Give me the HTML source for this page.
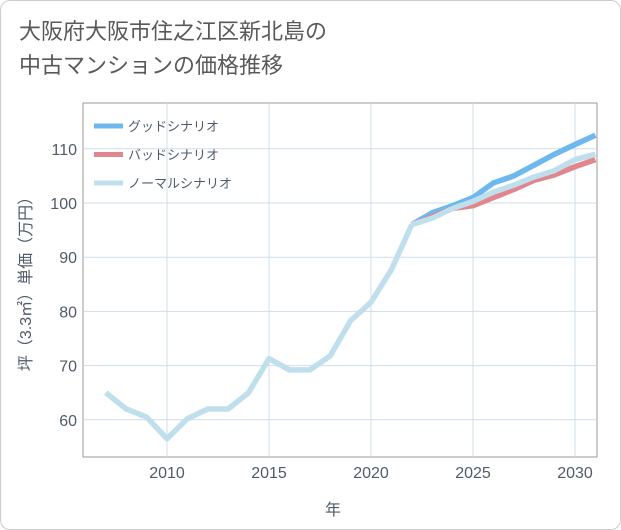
<!DOCTYPE html>
<html><head><meta charset="utf-8"><style>
body{margin:0;background:#fff;font-family:"Liberation Sans","Noto Sans CJK JP",sans-serif}
#card{position:relative;width:619px;height:528px;border:1px solid #ccc;border-radius:10px;background:#fff;overflow:hidden}
#title{position:absolute;left:18px;top:14px;font-size:22px;line-height:34px;color:#595959}
</style></head><body>
<div id="card">
<div id="title">大阪府大阪市住之江区新北島の<br>中古マンションの価格推移</div>
<svg id="svg" width="621" height="530" style="position:absolute;left:-1px;top:-1px"></svg>
</div>
<script>
const years=[2007,2008,2009,2010,2011,2012,2013,2014,2015,2016,2017,2018,2019,2020,2021,2022];
const hist=[65,62,60.5,56.5,60.2,62,62,65,71.3,69.2,69.2,71.8,78.3,81.7,87.7,96];
const futYears=[2022,2023,2024,2025,2026,2027,2028,2029,2030,2031];
const good=[96,98.2,99.5,101,103.7,105,107,109,110.8,112.5];
const bad=[96,97.5,99,99.5,101,102.5,104.2,105.2,106.7,108];
const normal=[96,97.2,99,100.3,102,103.3,104.8,106,108,109];
const xTicks=[2010,2015,2020,2025,2030];
const yTicks=[60,70,80,90,100,110];
const L=83,R=597,T=103,B=457;
const x=v=>167+(v-2010)*20.4;
const y=v=>203-(v-100)*5.42;
const s=document.getElementById('svg'),NS='http://www.w3.org/2000/svg';
const tc='#4f5b69';
function mk(t,a,p){const e=document.createElementNS(NS,t);for(const k in a)e.setAttribute(k,a[k]);(p||s).appendChild(e);return e;}
let e;
e=mk('rect',{x:L,y:T,width:R-L,height:B-T,fill:'none',stroke:'#999'});


xTicks.forEach(v=>{
e=mk('line',{x1:x(v),x2:x(v),y1:T,y2:B,stroke:'#cfdde9'});


e=mk('text',{x:x(v),y:478,'text-anchor':'middle','font-size':16,fill:tc});e.textContent=v;


});
yTicks.forEach(v=>{
e=mk('line',{x1:L,x2:R,y1:y(v),y2:y(v),stroke:'#cfdde9'});


e=mk('text',{x:77,y:y(v)+6,'text-anchor':'end','font-size':16,fill:tc});e.textContent=v;


});
e=mk('text',{x:333,y:515,'text-anchor':'middle','font-size':16,fill:tc});e.textContent='年';


e=mk('text',{x:0,y:0,'text-anchor':'middle','font-size':16,fill:tc,transform:'translate(31,280) rotate(-90)'});e.textContent='坪（3.3㎡）単価（万円）';


const clip=mk('clipPath',{id:'c'});mk('rect',{x:L,y:T,width:R-L,height:B-T},clip);
function line(xs,vs,col,name){
e=mk('polyline',{points:xs.map((v,i)=>x(v)+','+y(vs[i])).join(' '),fill:'none',stroke:col,'stroke-width':5.5,'stroke-linejoin':'round','clip-path':'url(#c)'});


}
line(futYears,good,'#6cb8ef','good-scenario-line');
line(futYears,bad,'#e0868e','bad-scenario-line');
line(futYears,normal,'#c0dfed','normal-scenario-line');
line(years,hist,'#c0dfed','historical-line');
const leg=[['グッドシナリオ','#6cb8ef'],['バッドシナリオ','#e0868e'],['ノーマルシナリオ','#c0dfed']];
leg.forEach((l,i)=>{
const yy=126+i*28.5;
e=mk('line',{x1:94,x2:123,y1:yy,y2:yy,stroke:l[1],'stroke-width':5});


e=mk('text',{x:128,y:yy+5,'font-size':13,fill:tc});e.textContent=l[0];


});
</script>
</body></html>
